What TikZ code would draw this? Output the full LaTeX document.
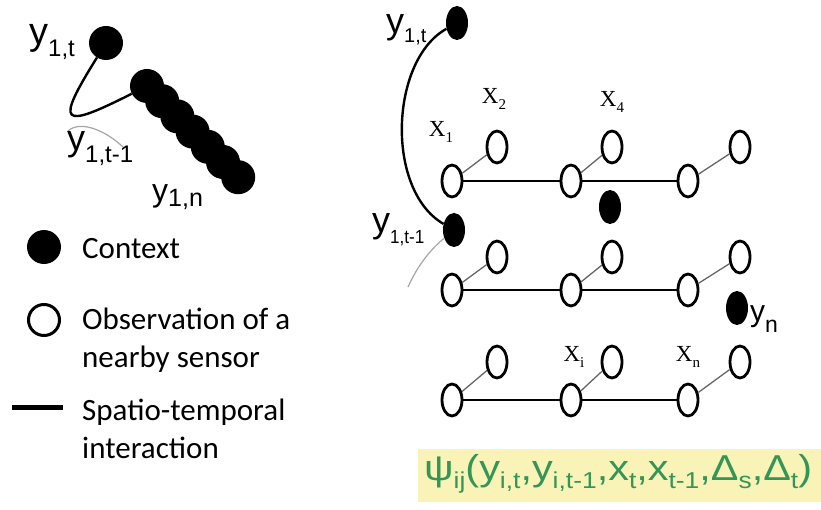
\documentclass[tikz,border=0pt]{standalone}
\usepackage{fontspec}
\setmainfont{Carlito}
\newfontfamily\helv{Liberation Sans}
\newfontfamily\tms{Liberation Serif}
\usepackage{graphicx}
\usetikzlibrary{shapes.geometric}

\definecolor{formgreen}{RGB}{52,150,86}
\definecolor{formbg}{RGB}{250,243,184}
% y with a lowered index: size, index size, drop, index
\newcommand{\ylab}[4]{{\helv\fontsize{#1}{#1}\selectfont y\fontsize{#2}{#2}\selectfont\raisebox{-#3pt}{#4}}}
\newcommand{\xlab}[1]{{\tms\fontsize{23}{23}\selectfont X\fontsize{15}{15}\selectfont\raisebox{-6pt}{#1}}}
\newcommand{\fsub}[1]{\raisebox{-8pt}{\fontsize{23}{23}\selectfont #1}}

\begin{document}
\begin{tikzpicture}[x=1pt,y=-1pt,
  ctx/.style={circle,fill=black,inner sep=0pt,minimum size=34pt},
  obs/.style={ellipse,draw,line width=2.8pt,fill=white,inner sep=0pt,minimum width=20pt,minimum height=32pt},
  ctxr/.style={ellipse,fill=black,inner sep=0pt,minimum width=22pt,minimum height=34pt},
  link/.style={line width=1.3pt,black!60},
  row/.style={line width=1.8pt},
  tie/.style={line width=2.4pt},
  legend/.style={anchor=base west,inner sep=0pt,font=\fontsize{31}{37}\selectfont},
  lab/.style={anchor=base west,inner sep=0pt}]
 \useasboundingbox (0,0) rectangle (821,510);

 % left: one sensor over time
 \node[ctx] (y1t) at (106,43) {};
 \foreach \i in {0,...,6}
  \node[ctx] (c\i) at ({147+\i*15.2},{86+\i*15.2}) {};
 \draw[tie] (y1t) .. controls (55,125) and (60,130) .. (c0);
 \coordinate (ga) at (68,131);
 \coordinate (gb) at (123,147);
 \draw[line width=1.2pt,black!35] (ga) .. controls (80,120) and (105,130) .. (gb);
 \node[lab] (l1t) at (29,45) {\ylab{38}{24}{12}{1,t}};
 \node[lab] (l1tm) at (67,151) {\ylab{36}{24}{12}{1,t-1}};
 \node[lab] (l1n) at (152,202) {\ylab{32}{25}{5}{1,n}};

 % legend
 \node[ctx] (kctx) at (44,247) {};
 \node[legend] (tctx) at (82,259) {Context};
 \node[circle,draw,line width=3pt,inner sep=0pt,minimum size=31pt] (kobs) at (44,320) {};
 \node[legend] (tobs) at (82,330) {Observation of a};
 \node[legend] (tobs2) at (82,367) {nearby sensor};
 \coordinate (ka) at (12,407);
 \coordinate (kb) at (63,407);
 \draw[line width=5pt] (ka) -- (kb);
 \node[legend] (tst) at (82,420) {Spatio-temporal};
 \node[legend] (tst2) at (82,458) {interaction};

 % right: sensor network
 \foreach \r/\yb/\yt in {1/181/147, 2/290/257, 3/400/362} {
  \foreach \c/\xb/\xt in {1/452/497, 2/571/612, 3/688/740} {
   \node[obs] (b\r\c) at (\xb,\yb) {};
   \node[obs] (t\r\c) at (\xt,\yt) {};
   \draw[link] (b\r\c) -- (t\r\c);
  }
  \draw[row] (b\r1) -- (b\r2);
  \draw[row] (b\r2) -- (b\r3);
 }
 \node[ctxr] (yr1) at (457,23) {};
 \node[ctxr] (yr2) at (454,230) {};
 \node[ctxr] (yx4) at (610,207) {};
 \node[ctxr] (yn) at (737,308) {};
 \draw[tie] (yr1) .. controls (390,60) and (385,190) .. (yr2);
 \coordinate (gc) at (408,287);
 \draw[line width=1.2pt,black!35] (yr2) .. controls (430,250) and (418,265) .. (gc);
 \node[lab] (r1t) at (386,34) {\ylab{36}{20}{9}{1,t}};
 \node[lab] (r1tm) at (372,233) {\ylab{36}{19}{11}{\scalebox{0.9}[1]{1,t-1}}};
 \node[lab] (rn) at (750,321) {\ylab{30}{23}{11}{n}};
 \node (x1) at (441,132) {\xlab{1}};
 \node (x2) at (494,99) {\xlab{2}};
 \node (x4) at (612,102) {\xlab{4}};
 \node (xi) at (574,357) {\xlab{i}};
 \node (xn) at (688,357) {\xlab{n}};

 % potential
 \fill[formbg] (418,449) rectangle (821,502);
 \node[lab,text=formgreen] (psi) at (424,480) {\scalebox{1.15}[1]{\helv\fontsize{36}{36}\selectfont
  ψ\fsub{ij}(y\fsub{i,t},y\fsub{i,t-1},x\fsub{t},x\fsub{t-1},Δ\fsub{s},Δ\fsub{t})}};
\end{tikzpicture}
\end{document}
